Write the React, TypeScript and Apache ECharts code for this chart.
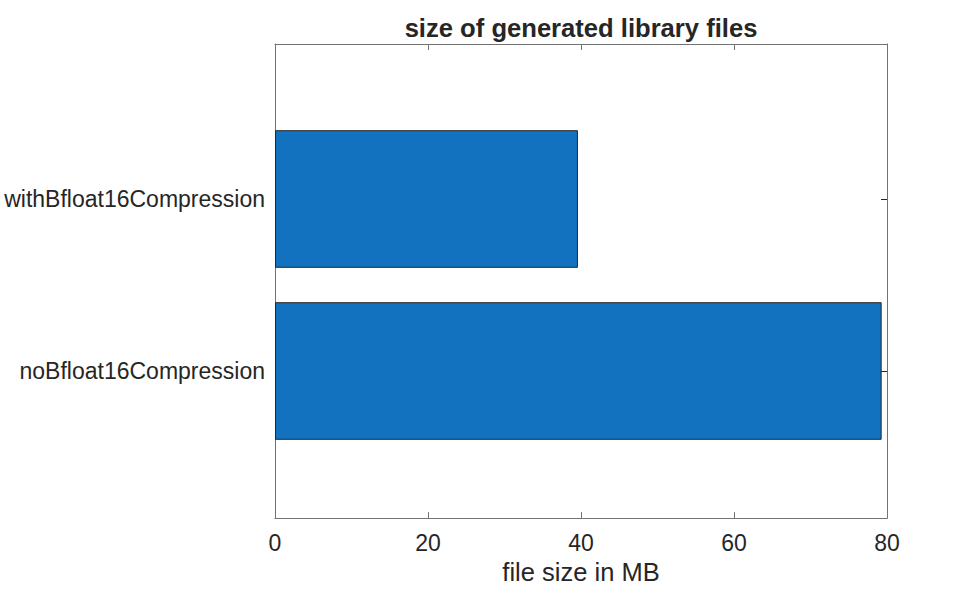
import React, { useEffect, useRef } from "react";
import * as echarts from "echarts";

const categories = ["noBfloat16Compression", "withBfloat16Compression"];
const fileSizes = [79.3, 39.6];
const xTicks = [0, 20, 40, 60, 80];
const titleText = "size of generated library files";
const xLabel = "file size in MB";

export default function App() {
  const ref = useRef<HTMLDivElement>(null);
  useEffect(() => {
    if (!ref.current) return;
    document.body.style.margin = "0";
    const chart = echarts.init(ref.current, undefined, { renderer: "svg" });
    const axisColor = "#737373";
    const textColor = "#262626";
    const font = "'Liberation Sans', Arial, Helvetica, sans-serif";
    const xMin = xTicks[0];
    const xMax = xTicks[xTicks.length - 1];
    const xInt = xTicks[1] - xTicks[0];
    chart.setOption({
      animation: false,
      textStyle: { fontFamily: font },
      graphic: [
        {
          type: "text",
          x: 581,
          y: 28,
          style: {
            text: titleText,
            fontSize: 25.6,
            fontWeight: "bold",
            fill: textColor,
            fontFamily: font,
            textAlign: "center",
            textVerticalAlign: "middle",
          },
        },
      ],
      grid: [
        { left: 275, right: 93, top: 44, bottom: 67 },
        { left: 275, right: 93, top: 113, bottom: 133 },
      ],
      xAxis: [
        {
          type: "value",
          gridIndex: 0,
          min: xMin,
          max: xMax,
          interval: xInt,
          position: "bottom",
          axisLine: { show: true, onZero: false, lineStyle: { color: axisColor, width: 1 } },
          axisTick: { show: true, inside: true, length: 6, lineStyle: { color: axisColor } },
          axisLabel: { fontSize: 23, color: textColor, margin: 13, fontFamily: font },
          splitLine: { show: false },
          name: xLabel,
          nameLocation: "middle",
          nameGap: 40,
          nameTextStyle: { fontSize: 25.5, color: textColor, fontFamily: font },
        },
        {
          type: "value",
          gridIndex: 0,
          min: xMin,
          max: xMax,
          interval: xInt,
          position: "top",
          axisLine: { show: true, onZero: false, lineStyle: { color: axisColor, width: 1 } },
          axisTick: { show: true, inside: true, length: 6, lineStyle: { color: axisColor } },
          axisLabel: { show: false },
          splitLine: { show: false },
        },
        {
          type: "value",
          gridIndex: 1,
          min: xMin,
          max: xMax,
          show: false,
          splitLine: { show: false },
        },
      ],
      yAxis: [
        {
          type: "value",
          gridIndex: 0,
          min: 0,
          max: 1,
          position: "left",
          axisLine: { show: true, onZero: false, lineStyle: { color: axisColor, width: 1 } },
          axisTick: { show: false },
          axisLabel: { show: false },
          splitLine: { show: false },
        },
        {
          type: "value",
          gridIndex: 0,
          min: 0,
          max: 1,
          position: "right",
          axisLine: { show: true, onZero: false, lineStyle: { color: axisColor, width: 1 } },
          axisTick: { show: false },
          axisLabel: { show: false },
          splitLine: { show: false },
        },
        {
          type: "category",
          gridIndex: 1,
          data: categories,
          position: "left",
          axisLine: { show: false, onZero: false },
          axisTick: {
            show: true,
            inside: true,
            length: 6,
            alignWithLabel: true,
            lineStyle: { color: axisColor },
          },
          axisLabel: { fontSize: 23, color: textColor, margin: 10, fontFamily: font },
          splitLine: { show: false },
        },
        {
          type: "category",
          gridIndex: 1,
          data: categories,
          position: "right",
          axisLine: { show: false, onZero: false },
          axisTick: {
            show: true,
            inside: true,
            length: 6,
            alignWithLabel: true,
            lineStyle: { color: textColor },
          },
          axisLabel: { show: false },
          splitLine: { show: false },
        },
      ],
      series: [
        {
          type: "bar",
          xAxisIndex: 2,
          yAxisIndex: 2,
          data: fileSizes,
          barWidth: "80%",
          itemStyle: { color: "#1272C0", borderColor: "#262626", borderWidth: 1 },
          z: 1,
        },
      ],
    });
    return () => chart.dispose();
  }, []);
  return <div ref={ref} style={{ width: 980, height: 590 }} />;
}
